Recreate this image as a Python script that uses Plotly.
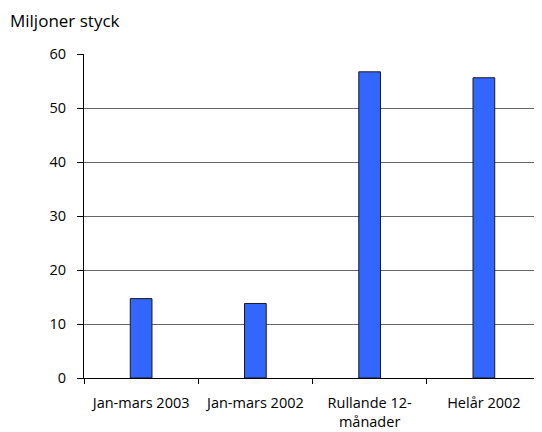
import plotly.graph_objects as go

categories = ["Jan-mars 2003", "Jan-mars 2002", "Rullande 12-<br>månader", "Helår 2002"]
values = [14.7, 13.8, 56.7, 55.6]
y_ticks = [0, 10, 20, 30, 40, 50, 60]

# page body has an 8px margin; size figure to fit window
W, H = 534, 424
L, R, T, B = 76, 1, 46, 52
pw, ph = W - L - R, H - T - B

fig = go.Figure(go.Bar(
    x=categories, y=values,
    marker=dict(color="#3366FF", line=dict(color="#1a1a1a", width=1)),
))
fig.update_layout(
    width=W, height=H,
    margin=dict(l=L, r=R, t=T, b=B),
    paper_bgcolor="white", plot_bgcolor="white",
    bargap=0.81,
    showlegend=False,
    font=dict(family="Open Sans, DejaVu Sans, sans-serif", size=14.5, color="black"),
    annotations=[dict(text="Miljoner styck", xref="paper", yref="paper",
                      x=(0 - L) / pw, y=(H - 12 - B) / ph,
                      xanchor="left", yanchor="middle",
                      showarrow=False, font=dict(size=17))],
)
fig.update_xaxes(showline=True, linecolor="black", linewidth=1,
                 ticks="outside", tickson="boundaries", ticklen=5, tickcolor="black",
                 ticklabelstandoff=12, showgrid=False)
fig.update_yaxes(range=[0, 60], tickvals=y_ticks, showline=True, linecolor="black", linewidth=1,
                 ticks="outside", ticklen=6, tickcolor="black", ticklabelstandoff=8,
                 showgrid=True, gridcolor="#666666", gridwidth=1, zeroline=False)
fig.write_html("out.html")
